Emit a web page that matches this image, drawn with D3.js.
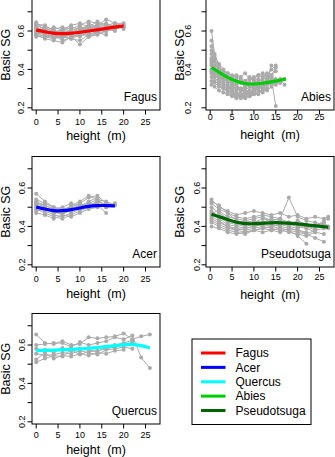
<!DOCTYPE html>
<html>
<head>
<meta charset="utf-8">
<script src="https://cdn.jsdelivr.net/npm/d3@7"></script>
<style>
  body { margin: 0; background: #fff; }
  text { font-family: "Liberation Sans", Arial, sans-serif; fill: #000; white-space: pre; }
</style>
</head>
<body>
<script>
// heights (m) where each tree was sampled
var fagusH = [0, 2, 4, 6, 8, 10, 12, 14, 16, 18, 20];
var abiesH = [0.3, 1, 2, 3, 4, 5, 6, 7, 8, 9, 10, 11, 12, 13, 14, 15, 16, 17];
var acerH = [0, 2, 4, 6, 8, 10, 12, 14, 16, 18];
var pseudoH = [0.3, 2, 4, 6, 8, 10, 12, 14, 16, 18, 20, 22, 24, 26, 27];
var quercusH = [0, 2, 4, 6, 8, 10, 12, 14, 16, 18, 20, 22, 24, 26];

// basic SG per tree (gray profiles)
var fagus = [
  [0.63, 0.61, 0.60, 0.60, 0.59, 0.61, 0.62, 0.63, 0.66, 0.64, 0.64],
  [0.62, 0.60, 0.58, 0.57, 0.58, 0.60, 0.61, 0.60, 0.62, 0.63, 0.61],
  [0.61, 0.62, 0.59, 0.61, 0.60, 0.59, 0.64, 0.62, 0.63, 0.62],
  [0.60, 0.58, 0.57, 0.59, 0.57, 0.58, 0.60, 0.62, 0.61],
  [0.59, 0.57, 0.56, 0.58, 0.56, 0.55, 0.58, 0.59, 0.60, 0.61, 0.62],
  [0.58, 0.56, 0.55, 0.54, 0.57, 0.53, 0.57, 0.59, 0.58],
  [0.64, 0.62, 0.61, 0.62, 0.61, 0.63, 0.65, 0.64, 0.62, 0.63],
  [0.57, 0.58, 0.56, 0.57, 0.58, 0.57, 0.59, 0.61, 0.60],
  [0.62, 0.59, 0.60, 0.58, 0.59, 0.62, 0.60, 0.63, 0.64, 0.62, 0.63],
  [0.60, 0.61, 0.58, 0.56, 0.59, 0.60, 0.58, 0.60],
  [0.615, 0.60, 0.59, 0.60, 0.62, 0.61, 0.63, 0.61, 0.62],
  [0.585, 0.59, 0.57, 0.59, 0.58, 0.60, 0.62, 0.60, 0.61, 0.60],
  [0.635, 0.63, 0.60, 0.59, 0.60, 0.62, 0.61, 0.63],
  [0.595, 0.58, 0.575, 0.57, 0.56, 0.58, 0.60, 0.59, 0.62, 0.61],
  [0.645, 0.60, 0.62, 0.605, 0.63, 0.64, 0.62, 0.65, 0.63, 0.64, 0.625],
  [0.575, 0.565, 0.58, 0.55, 0.565, 0.59, 0.57, 0.58, 0.60, 0.62]
];
var abies = [
  [0.60, 0.48, 0.42, 0.38, 0.36, 0.35, 0.33, 0.34, 0.32, 0.31, 0.33, 0.32, 0.34, 0.33, 0.35, 0.21],
  [0.52, 0.46, 0.40, 0.37, 0.35, 0.33, 0.32, 0.30, 0.31, 0.32, 0.30, 0.33, 0.32, 0.34, 0.36, 0.33, 0.34],
  [0.48, 0.44, 0.39, 0.36, 0.34, 0.32, 0.31, 0.29, 0.30, 0.28, 0.30, 0.31, 0.33, 0.32, 0.34, 0.35, 0.34, 0.35],
  [0.46, 0.41, 0.37, 0.35, 0.33, 0.31, 0.30, 0.29, 0.28, 0.29, 0.31, 0.30, 0.32, 0.34, 0.42],
  [0.44, 0.39, 0.36, 0.34, 0.32, 0.30, 0.29, 0.27, 0.28, 0.27, 0.29, 0.31, 0.30, 0.32, 0.33, 0.32],
  [0.42, 0.40, 0.38, 0.37, 0.36, 0.35, 0.37, 0.36, 0.38, 0.35, 0.36, 0.37, 0.38, 0.36, 0.40, 0.42],
  [0.40, 0.37, 0.35, 0.33, 0.31, 0.29, 0.28, 0.27, 0.26, 0.28, 0.27, 0.29, 0.28, 0.30],
  [0.38, 0.36, 0.33, 0.31, 0.30, 0.28, 0.27, 0.26, 0.25, 0.26, 0.27, 0.28, 0.30, 0.29, 0.31, 0.33],
  [0.36, 0.34, 0.32, 0.30, 0.29, 0.28, 0.26, 0.25, 0.27, 0.26, 0.28, 0.27, 0.29],
  [0.34, 0.33, 0.31, 0.30, 0.28, 0.27, 0.26, 0.27, 0.26, 0.28, 0.29, 0.30, 0.31, 0.33, 0.32, 0.34, 0.33],
  [0.50, 0.45, 0.41, 0.39, 0.38, 0.37, 0.36, 0.35, 0.34, 0.36, 0.35, 0.37, 0.36, 0.38, 0.37, 0.39],
  [0.45, 0.42, 0.39, 0.37, 0.35, 0.34, 0.35, 0.33, 0.34, 0.33, 0.32, 0.34, 0.35, 0.37, 0.36],
  [0.32, 0.31, 0.29, 0.28, 0.27, 0.26, 0.25, 0.27, 0.28, 0.27, 0.29, 0.30, 0.31, 0.30],
  [0.43, 0.38, 0.34, 0.32, 0.31, 0.30, 0.31, 0.30, 0.29, 0.31, 0.30, 0.32, 0.31, 0.33, 0.35, 0.34, 0.33],
  [0.39, 0.38, 0.36, 0.35, 0.34, 0.33, 0.32, 0.34, 0.33, 0.35, 0.34, 0.33, 0.36, 0.35, 0.37, 0.41],
  [0.55, 0.47, 0.43, 0.40, 0.38, 0.36, 0.34, 0.33, 0.31, 0.32, 0.34, 0.35, 0.33, 0.34, 0.36, 0.34, 0.35, 0.32]
];
var acer = [
  [0.57, 0.53, 0.50, 0.49, 0.50, 0.52, 0.55, 0.56, 0.52],
  [0.53, 0.51, 0.49, 0.48, 0.51, 0.53, 0.56, 0.54, 0.50],
  [0.52, 0.50, 0.48, 0.46, 0.49, 0.51, 0.52, 0.54, 0.53, 0.51],
  [0.51, 0.49, 0.47, 0.47, 0.48, 0.50, 0.51, 0.53, 0.51, 0.52],
  [0.50, 0.48, 0.46, 0.45, 0.47, 0.49, 0.51, 0.52, 0.50],
  [0.49, 0.47, 0.45, 0.44, 0.46, 0.48, 0.50, 0.51, 0.47],
  [0.48, 0.49, 0.47, 0.48, 0.50, 0.52, 0.50, 0.53],
  [0.54, 0.52, 0.50, 0.48, 0.49, 0.51, 0.52, 0.51, 0.52, 0.51],
  [0.47, 0.46, 0.44, 0.46, 0.45, 0.47, 0.49, 0.50],
  [0.52, 0.51, 0.49, 0.50, 0.52, 0.50, 0.53, 0.55, 0.50]
];
var pseudo = [
  [0.54, 0.50, 0.48, 0.46, 0.47, 0.48, 0.47, 0.46, 0.47, 0.45, 0.46, 0.44, 0.45, 0.44, 0.45],
  [0.52, 0.49, 0.47, 0.45, 0.44, 0.45, 0.46, 0.45, 0.44, 0.55, 0.45, 0.43, 0.42, 0.41],
  [0.50, 0.47, 0.44, 0.42, 0.43, 0.42, 0.44, 0.43, 0.42, 0.41, 0.40, 0.39, 0.37, 0.36],
  [0.48, 0.45, 0.42, 0.41, 0.40, 0.41, 0.42, 0.41, 0.40, 0.39, 0.38, 0.36, 0.34, 0.32],
  [0.46, 0.44, 0.41, 0.40, 0.39, 0.40, 0.41, 0.42, 0.41, 0.42, 0.41, 0.40, 0.39, 0.40, 0.39],
  [0.45, 0.43, 0.40, 0.39, 0.38, 0.39, 0.40, 0.39, 0.38, 0.37, 0.36, 0.35, 0.37],
  [0.44, 0.42, 0.40, 0.38, 0.37, 0.38, 0.39, 0.40, 0.39, 0.38, 0.35, 0.31],
  [0.43, 0.41, 0.39, 0.38, 0.39, 0.40, 0.41, 0.40, 0.41, 0.40, 0.39, 0.41, 0.40, 0.42, 0.40],
  [0.42, 0.40, 0.38, 0.37, 0.36, 0.38, 0.39, 0.38, 0.37, 0.39, 0.38, 0.37],
  [0.40, 0.39, 0.37, 0.36, 0.37, 0.38, 0.37, 0.38, 0.39, 0.38, 0.37, 0.36, 0.38, 0.39],
  [0.47, 0.48, 0.45, 0.44, 0.43, 0.44, 0.45, 0.43, 0.44, 0.42, 0.41, 0.40, 0.38],
  [0.53, 0.51, 0.47, 0.43, 0.42, 0.43, 0.42, 0.44, 0.43, 0.41, 0.43, 0.41, 0.40, 0.43, 0.44]
];
var quercus = [
  [0.655, 0.61, 0.605, 0.62, 0.60, 0.605, 0.64, 0.635, 0.64, 0.645, 0.66, 0.63, 0.645, 0.655],
  [0.60, 0.605, 0.61, 0.61, 0.59, 0.615, 0.60, 0.61, 0.62, 0.64, 0.63, 0.65, 0.535, 0.48],
  [0.58, 0.575, 0.56, 0.585, 0.57, 0.58, 0.575, 0.565, 0.59, 0.60, 0.61, 0.625],
  [0.555, 0.545, 0.55, 0.56, 0.555, 0.57, 0.56, 0.55, 0.575, 0.58, 0.59, 0.58],
  [0.525, 0.56, 0.53, 0.545, 0.54, 0.555, 0.545, 0.56, 0.555, 0.57, 0.575],
  [0.51, 0.53, 0.545, 0.54, 0.575, 0.55, 0.565, 0.57, 0.58, 0.59, 0.60, 0.615]
];

// smoothed trend per species
var fagusFitH = [0, 2.5, 5, 7.5, 10, 12.5, 15, 17.5, 20];
var fagusFit = [0.605, 0.593, 0.585, 0.587, 0.593, 0.601, 0.61, 0.619, 0.627];
var abiesFitH = [0.3, 2, 4, 6, 8, 10, 12, 14, 16, 17.3];
var abiesFit = [0.41, 0.385, 0.357, 0.337, 0.325, 0.323, 0.327, 0.335, 0.344, 0.35];
var acerFitH = [0, 2, 4, 6, 8, 10, 12, 14, 16, 18];
var acerFit = [0.501, 0.49, 0.481, 0.481, 0.487, 0.496, 0.505, 0.509, 0.509, 0.507];
var pseudoFitH = [0.3, 2.5, 5, 7.5, 10, 12.5, 15, 17.5, 20, 22.5, 25, 27];
var pseudoFit = [0.463, 0.448, 0.427, 0.414, 0.413, 0.418, 0.42, 0.418, 0.413, 0.407, 0.401, 0.396];
var quercusFitH = [0, 4, 8, 12, 16, 20, 22, 24, 26];
var quercusFit = [0.57, 0.573, 0.577, 0.582, 0.591, 0.602, 0.605, 0.598, 0.585];

var xTicks = [0, 5, 10, 15, 20, 25];
var yTicks = [0.2, 0.3, 0.4, 0.5, 0.6, 0.7];
var yLabels = [0.2, 0.4, 0.6];

var legendNames = ["Fagus", "Acer", "Quercus", "Abies", "Pseudotsuga"];
var legendColors = ["#ff0000", "#0000ff", "#00ffff", "#00cd00", "#006400"];

var w = 335;
var h = 457;
var svg = d3.select("body").append("svg")
  .attr("width", w)
  .attr("height", h);

var gray = "#aaaaaa";

function panel(p) {
  var left = p.left, top = p.top;
  var pw = 128, ph = 110.5;
  var x = d3.scaleLinear().domain([0, 25]).range([left + 4.2, left + 113.5]);
  var y = d3.scaleLinear().domain([0.2, 0.7]).range([top + 108.3, top + 12.3]);
  var g = svg.append("g");

  // gray profiles
  var line = d3.line().x(function(d) { return x(d[0]); }).y(function(d) { return y(d[1]); });
  p.trees.forEach(function(t) {
    var pts = t.map(function(v, i) { return [p.hs[i], v]; });
    g.append("path").attr("d", line(pts))
      .attr("fill", "none").attr("stroke", gray).attr("stroke-width", 1);
    g.selectAll(null).data(pts).enter().append("circle")
      .attr("cx", function(d) { return x(d[0]); })
      .attr("cy", function(d) { return y(d[1]); })
      .attr("r", 2).attr("fill", gray);
  });

  // trend
  var fit = p.fit.map(function(v, i) { return [p.fitH[i], v]; });
  g.append("path").attr("d", line.curve(d3.curveBasis)(fit))
    .attr("fill", "none").attr("stroke", p.color).attr("stroke-width", 3.2);
  line.curve(d3.curveLinear);

  // box
  g.append("rect").attr("x", left).attr("y", top).attr("width", pw).attr("height", ph)
    .attr("fill", "none").attr("stroke", "#000").attr("stroke-width", 1);

  // y axis ticks and labels
  g.selectAll(null).data(yTicks).enter().append("line")
    .attr("x1", left - 4.5).attr("x2", left)
    .attr("y1", function(d) { return y(d); }).attr("y2", function(d) { return y(d); })
    .attr("stroke", "#000");
  g.selectAll(null).data(yLabels).enter().append("text")
    .attr("transform", function(d) { return "translate(" + (left + p.ylab) + "," + y(d) + ") rotate(-90)"; })
    .attr("text-anchor", "middle").attr("dy", "0.35em")
    .attr("font-size", 9).text(function(d) { return d.toFixed(1); });

  // x axis ticks and labels
  g.selectAll(null).data(xTicks).enter().append("line")
    .attr("x1", function(d) { return x(d); }).attr("x2", function(d) { return x(d); })
    .attr("y1", top + ph).attr("y2", top + ph + 4.5)
    .attr("stroke", "#000");
  g.selectAll(null).data(xTicks).enter().append("text")
    .attr("x", function(d) { return x(d); }).attr("y", top + ph + p.xlab)
    .attr("text-anchor", "middle").attr("dy", "0.35em")
    .attr("font-size", 9).text(function(d) { return d; });

  // axis titles
  g.append("text")
    .attr("x", left + pw / 2).attr("y", top + ph + p.xtitle)
    .attr("text-anchor", "middle").attr("dy", "0.35em")
    .attr("font-size", 12.5).text("height  (m)");
  g.append("text")
    .attr("transform", "translate(" + (left - 26.5) + "," + (top + ph / 2) + ") rotate(-90)")
    .attr("text-anchor", "middle").attr("dy", "0.35em")
    .attr("font-size", 12.5).text("Basic SG");

  // species name
  g.append("text")
    .attr("x", left + pw - 3).attr("y", top + ph - 9)
    .attr("text-anchor", "end")
    .attr("font-size", 12).text(p.name);
}

panel({ name: "Fagus", left: 32, top: -0.5, hs: fagusH, trees: fagus, fitH: fagusFitH, fit: fagusFit, color: "#ff0000", ylab: -11, xlab: 12, xtitle: 26 });
panel({ name: "Abies", left: 206, top: -0.5, hs: abiesH, trees: abies, fitH: abiesFitH, fit: abiesFit, color: "#00cd00", ylab: -18, xlab: 6.5, xtitle: 25 });
panel({ name: "Acer", left: 32, top: 156.5, hs: acerH, trees: acer, fitH: acerFitH, fit: acerFit, color: "#0000ff", ylab: -10.5, xlab: 11.5, xtitle: 26.7 });
panel({ name: "Pseudotsuga", left: 206, top: 156.5, hs: pseudoH, trees: pseudo, fitH: pseudoFitH, fit: pseudoFit, color: "#006400", ylab: -9, xlab: 10, xtitle: 27.5 });
panel({ name: "Quercus", left: 32, top: 313.5, hs: quercusH, trees: quercus, fitH: quercusFitH, fit: quercusFit, color: "#00ffff", ylab: -10.5, xlab: 11, xtitle: 26 });

// legend
var lg = svg.append("g");
lg.append("rect").attr("x", 192).attr("y", 339).attr("width", 119).attr("height", 85.5)
  .attr("fill", "none").attr("stroke", "#000");
var ly = d3.scalePoint().domain(legendNames).range([353, 410.5]);
lg.selectAll(null).data(legendNames).enter().append("line")
  .attr("x1", 201).attr("x2", 225.5)
  .attr("y1", function(d) { return ly(d); }).attr("y2", function(d) { return ly(d); })
  .attr("stroke", function(d, i) { return legendColors[i]; }).attr("stroke-width", 3);
lg.selectAll(null).data(legendNames).enter().append("text")
  .attr("x", 235.5).attr("y", function(d) { return ly(d); }).attr("dy", "0.35em")
  .attr("font-size", 12).text(function(d) { return d; });
</script>
</body>
</html>
